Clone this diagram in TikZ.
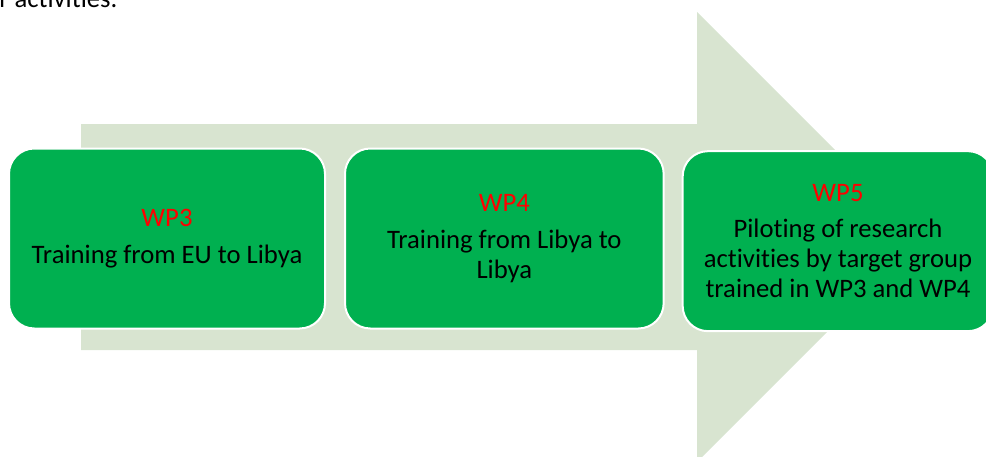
\documentclass[tikz,border=0pt]{standalone}
\usepackage{fontspec}
\setmainfont{Carlito}[Ligatures=NoCommon]
\usetikzlibrary{positioning}

\definecolor{arrowgreen}{RGB}{216,228,208}
\definecolor{boxgreen}{RGB}{0,176,80}
\definecolor{wpred}{RGB}{255,0,0}

\tikzset{
	wpbox/.style={rectangle, rounded corners=19pt, fill=boxgreen, draw=white, line width=1.5pt,
		minimum height=135pt, align=center, font=\fontsize{20}{22.5}\selectfont}
}

\begin{document}
\begin{tikzpicture}[x=0.75pt,y=-0.75pt]
	\useasboundingbox (0,0) rectangle (986,457);
	
	% text line cut off above the picture
	\node[anchor=base west, inner sep=0pt, font=\fontsize{20}{22.5}\selectfont] (prev) at (-1,7) {r activities.};
	
	% big arrow behind the boxes
	\fill[arrowgreen] (81,124) -- (697,124) -- (697,12) -- (922,237) -- (697,462) -- (697,350) -- (81,350) -- cycle;
	
	\node[wpbox, minimum width=237pt] (wp3) at (167,238.5) {\textcolor{wpred}{WP3}\\[5pt] Training from EU to Libya};
	\node[wpbox, minimum width=239pt, right=13.5pt of wp3] (wp4) {\textcolor{wpred}{WP4}\\[5pt] Training from Libya to\\ Libya};
	\node[wpbox, minimum width=233pt, right=12.75pt of wp4, yshift=-2pt] (wp5) {\textcolor{wpred}{WP5}\\[5pt] Piloting of research\\ activities by target group\\ trained in WP3 and WP4};
\end{tikzpicture}
\end{document}
